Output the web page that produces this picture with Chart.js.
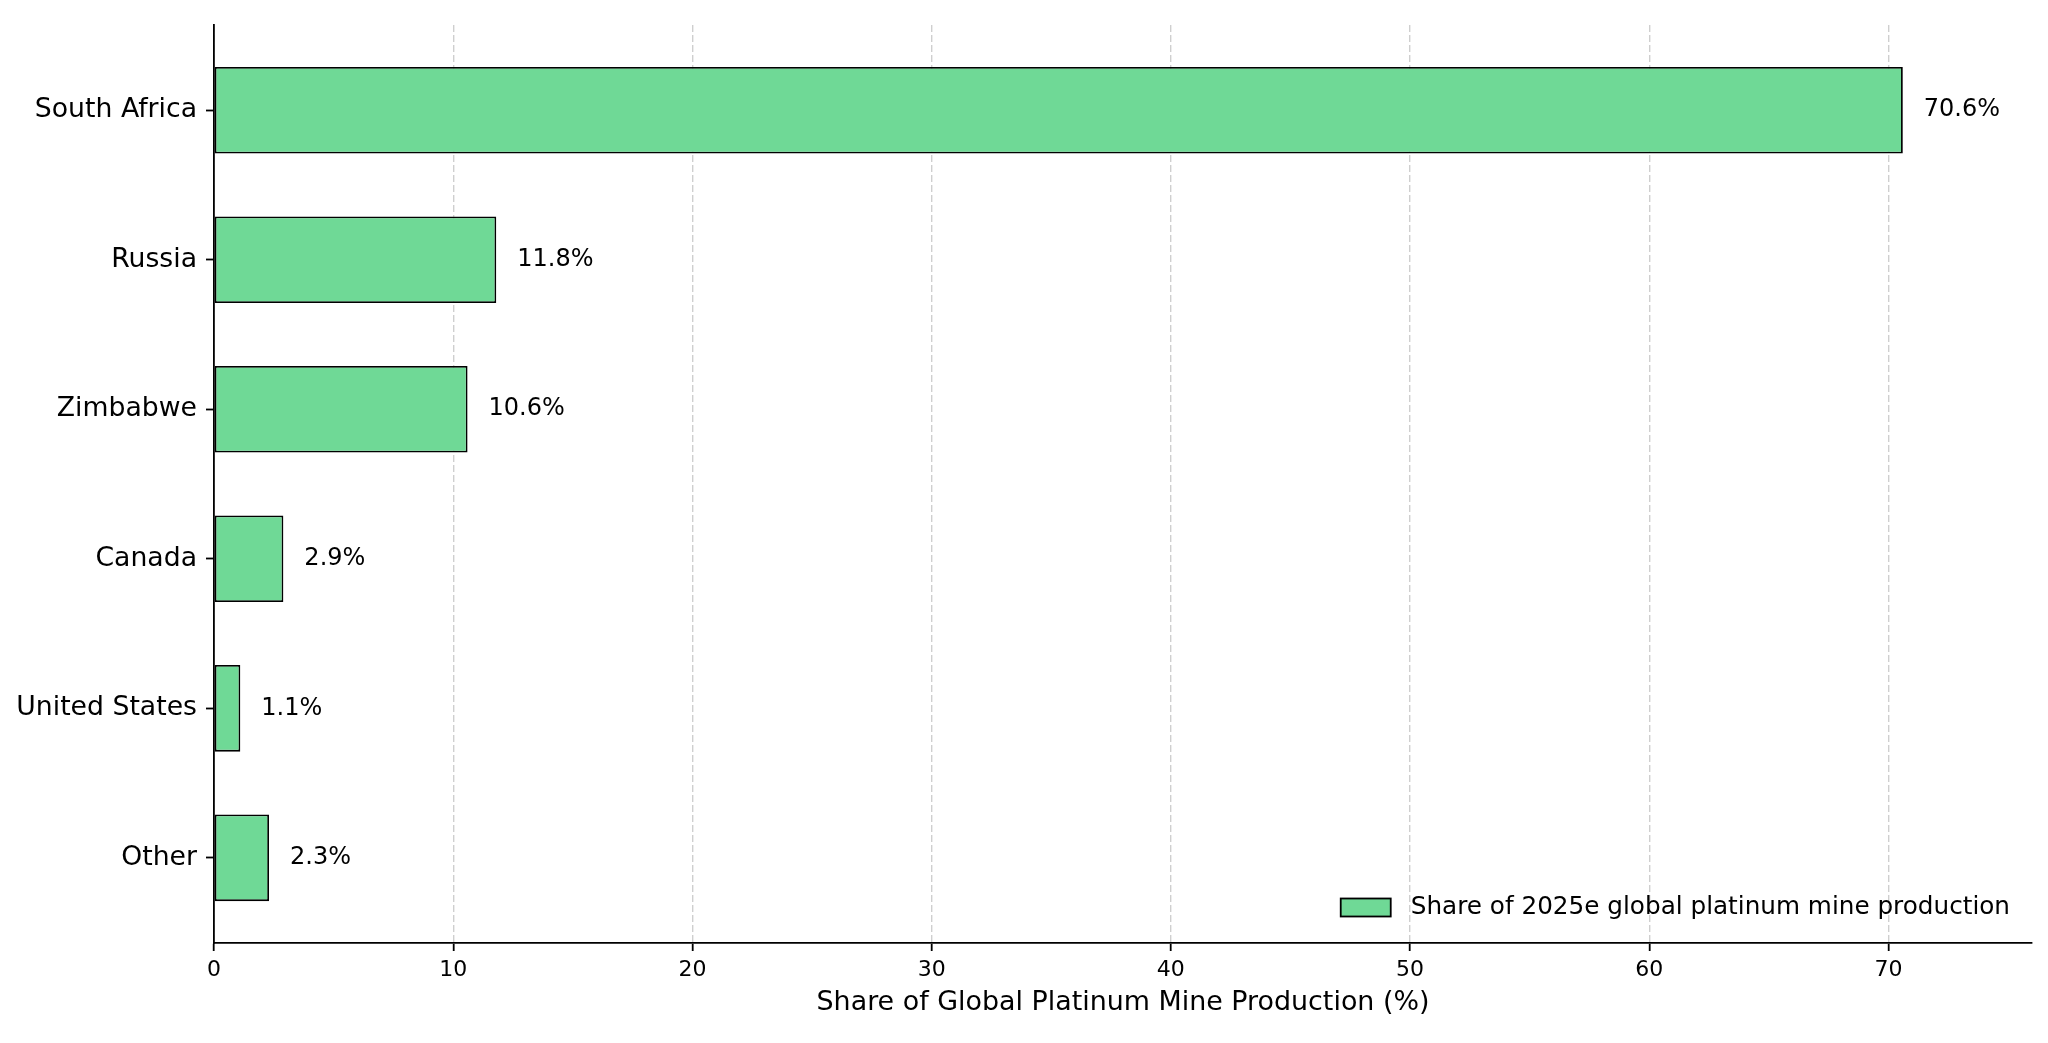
<!DOCTYPE html>
<html lang="en">
<head>
<meta charset="UTF-8">
<title>Global Platinum Mine Production Share</title>
<script src="https://cdn.jsdelivr.net/npm/chart.js"></script>
<style>
    html, body { margin: 0; padding: 0; background: #fff; }
    #wrap { width: 2048px; height: 1043px; }
</style>
</head>
<body>
<div id="wrap"><canvas id="shareChart" width="2048" height="1043"></canvas></div>
<script>
    const countries = ['South Africa', 'Russia', 'Zimbabwe', 'Canada', 'United States', 'Other'];
    const shares = [70.6, 11.8, 10.6, 2.9, 1.1, 2.3];
    const xTicks = [0, 10, 20, 30, 40, 50, 60, 70];
    const seriesLabel = 'Share of 2025e global platinum mine production';
    const xTitle = 'Share of Global Platinum Mine Production (%)';

    const FONT = '"DejaVu Sans", sans-serif';
    const BAR_FILL = '#6fd996';

    // percentage text just right of each bar end
    const valueLabels = {
        id: 'valueLabels',
        afterDatasetsDraw(chart) {
            const ctx = chart.ctx;
            const meta = chart.getDatasetMeta(0);
            ctx.save();
            ctx.font = '24px ' + FONT;
            ctx.fillStyle = '#000';
            ctx.textAlign = 'left';
            ctx.textBaseline = 'middle';
            meta.data.forEach((bar, i) => {
                ctx.fillText(shares[i].toFixed(1) + '%', bar.x + 21, bar.y);
            });
            ctx.restore();
        }
    };

    // legend sits inside the plot, lower right
    const innerLegend = {
        id: 'innerLegend',
        afterDraw(chart) {
            const ctx = chart.ctx;
            const area = chart.chartArea;
            const text = chart.data.datasets[0].label;
            ctx.save();
            ctx.font = '24.7px ' + FONT;
            const w = ctx.measureText(text).width;
            const textX = area.right - 22 - w;
            const cy = area.bottom - 35.5;
            const boxW = 50, boxH = 18;
            const boxX = textX - 20 - boxW;
            ctx.fillStyle = BAR_FILL;
            ctx.fillRect(boxX, cy - boxH / 2, boxW, boxH);
            ctx.strokeStyle = '#000';
            ctx.lineWidth = 1.8;
            ctx.strokeRect(boxX, cy - boxH / 2, boxW, boxH);
            ctx.fillStyle = '#000';
            ctx.textAlign = 'left';
            ctx.textBaseline = 'middle';
            ctx.fillText(text, textX, cy);
            ctx.restore();
        }
    };

    const ctx = document.getElementById('shareChart').getContext('2d');
    new Chart(ctx, {
        type: 'bar',
        data: {
            datasets: [{
                label: seriesLabel,
                data: shares.map((v, i) => ({ x: v, y: i })),
                backgroundColor: BAR_FILL,
                borderColor: '#000',
                borderWidth: 1.8,
                borderSkipped: false,
                categoryPercentage: 1.0,
                barPercentage: 0.58
            }]
        },
        options: {
            indexAxis: 'y',
            responsive: false,
            devicePixelRatio: 1,
            animation: false,
            layout: { padding: { left: 0, right: 16, top: 22, bottom: 0 } },
            plugins: {
                legend: { display: false },
                tooltip: { enabled: false }
            },
            scales: {
                x: {
                    type: 'linear',
                    position: 'bottom',
                    min: 0,
                    max: 76,
                    afterBuildTicks: (scale) => {
                        scale.ticks = xTicks.map(v => ({ value: v }));
                    },
                    afterFit: (scale) => { scale.height = 100; },
                    ticks: {
                        color: '#000',
                        font: { family: FONT, size: 22 },
                        padding: 6,
                        maxRotation: 0
                    },
                    grid: {
                        color: '#cfcfcf',
                        lineWidth: 1.4,
                        drawTicks: true,
                        tickLength: 8,
                        tickColor: '#000',
                        tickWidth: 1.8,
                        tickBorderDash: []
                    },
                    border: {
                        display: true,
                        color: '#000',
                        width: 1.8,
                        dash: [7, 3]
                    },
                    title: {
                        display: true,
                        text: xTitle,
                        color: '#000',
                        font: { family: FONT, size: 26.9 },
                        padding: { top: 0, bottom: 24 }
                    }
                },
                y: {
                    type: 'linear',
                    position: 'left',
                    reverse: true,
                    offset: false,
                    min: -0.57,
                    max: 5.57,
                    afterBuildTicks: (scale) => {
                        scale.ticks = countries.map((c, i) => ({ value: i }));
                    },
                    afterFit: (scale) => { scale.width = 214; },
                    ticks: {
                        color: '#000',
                        font: { family: FONT, size: 26.7 },
                        padding: 9,
                        autoSkip: false,
                        callback: (v) => countries[v]
                    },
                    grid: {
                        display: true,
                        offset: false,
                        drawOnChartArea: false,
                        drawTicks: true,
                        tickLength: 8,
                        tickColor: '#000',
                        tickWidth: 1.8
                    },
                    border: {
                        display: true,
                        color: '#000',
                        width: 1.8
                    }
                }
            }
        },
        plugins: [valueLabels, innerLegend]
    });
</script>
</body>
</html>
